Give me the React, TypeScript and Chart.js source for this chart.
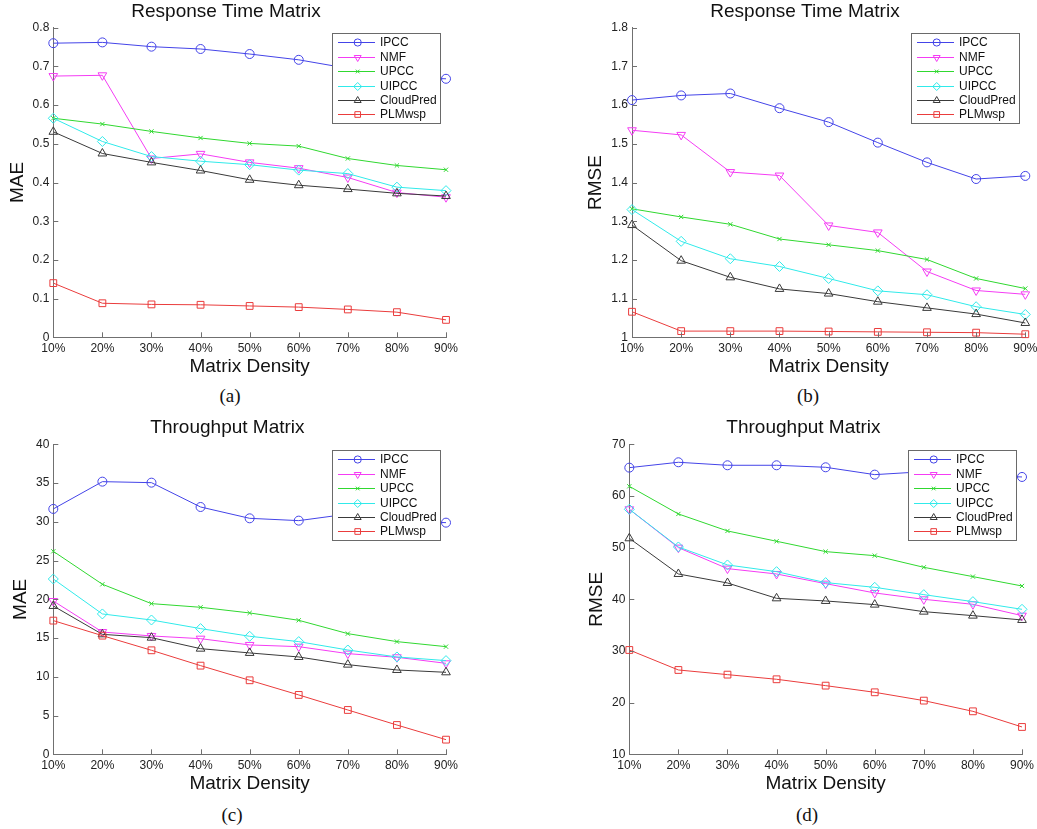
import React, { useEffect, useRef } from 'react';
import { Chart, registerables } from 'chart.js';

Chart.register(...registerables);

const FONT = "'Liberation Sans', Arial, Helvetica, sans-serif";
const AXIS = '#707070';

// ---------- data ----------
const densities = ['10%', '20%', '30%', '40%', '50%', '60%', '70%', '80%', '90%'];
const seriesNames = ['IPCC', 'NMF', 'UPCC', 'UIPCC', 'CloudPred', 'PLMwsp'];

// (a) Response Time Matrix, MAE
const rtMaeIPCC = [0.760, 0.762, 0.751, 0.745, 0.732, 0.717, 0.695, 0.672, 0.668];
const rtMaeNMF = [0.675, 0.677, 0.462, 0.474, 0.452, 0.437, 0.413, 0.374, 0.362];
const rtMaeUPCC = [0.566, 0.551, 0.532, 0.515, 0.501, 0.494, 0.462, 0.444, 0.433];
const rtMaeUIPCC = [0.566, 0.506, 0.467, 0.455, 0.446, 0.432, 0.423, 0.388, 0.379];
const rtMaeCloudPred = [0.531, 0.475, 0.452, 0.431, 0.407, 0.393, 0.383, 0.372, 0.365];
const rtMaePLMwsp = [0.140, 0.088, 0.085, 0.084, 0.081, 0.078, 0.072, 0.065, 0.045];
const rtMaeTicks = [0, 0.1, 0.2, 0.3, 0.4, 0.5, 0.6, 0.7, 0.8];

// (b) Response Time Matrix, RMSE
const rtRmseIPCC = [1.613, 1.625, 1.630, 1.592, 1.556, 1.503, 1.452, 1.409, 1.417];
const rtRmseNMF = [1.535, 1.523, 1.427, 1.418, 1.289, 1.271, 1.170, 1.121, 1.111];
const rtRmseUPCC = [1.332, 1.311, 1.292, 1.254, 1.239, 1.224, 1.201, 1.152, 1.126];
const rtRmseUIPCC = [1.330, 1.248, 1.203, 1.183, 1.152, 1.120, 1.110, 1.079, 1.059];
const rtRmseCloudPred = [1.290, 1.198, 1.155, 1.125, 1.113, 1.092, 1.076, 1.060, 1.037];
const rtRmsePLMwsp = [1.066, 1.016, 1.016, 1.016, 1.015, 1.014, 1.013, 1.012, 1.008];
const rtRmseTicks = [1, 1.1, 1.2, 1.3, 1.4, 1.5, 1.6, 1.7, 1.8];

// (c) Throughput Matrix, MAE
const tpMaeIPCC = [31.66, 35.18, 35.05, 31.91, 30.45, 30.15, 31.0, 30.1, 29.89];
const tpMaeNMF = [19.78, 15.78, 15.27, 14.92, 14.11, 13.89, 12.99, 12.52, 11.74];
const tpMaeUPCC = [26.19, 21.94, 19.44, 18.97, 18.24, 17.29, 15.57, 14.54, 13.89];
const tpMaeUIPCC = [22.62, 18.11, 17.33, 16.22, 15.23, 14.54, 13.46, 12.56, 12.09];
const tpMaeCloudPred = [19.14, 15.48, 15.05, 13.63, 13.08, 12.56, 11.57, 10.88, 10.58];
const tpMaePLMwsp = [17.25, 15.31, 13.42, 11.44, 9.55, 7.66, 5.72, 3.78, 1.89];
const tpMaeTicks = [0, 5, 10, 15, 20, 25, 30, 35, 40];

// (d) Throughput Matrix, RMSE
const tpRmseIPCC = [65.48, 66.52, 65.94, 65.94, 65.55, 64.13, 64.7, 64.0, 63.68];
const tpRmseNMF = [57.42, 50.0, 45.94, 44.9, 43.03, 41.23, 40.0, 39.03, 36.84];
const tpRmseUPCC = [61.87, 56.52, 53.23, 51.23, 49.23, 48.45, 46.19, 44.39, 42.58];
const tpRmseUIPCC = [57.42, 50.13, 46.65, 45.35, 43.23, 42.32, 40.9, 39.55, 38.06];
const tpRmseCloudPred = [51.81, 44.9, 43.16, 40.19, 39.68, 38.97, 37.61, 36.84, 36.0];
const tpRmsePLMwsp = [30.19, 26.32, 25.42, 24.52, 23.29, 22.0, 20.39, 18.32, 15.29];
const tpRmseTicks = [10, 20, 30, 40, 50, 60, 70];

// ---------- styles ----------
const seriesColors = ['#4444e8', '#f43cf4', '#30d830', '#30eaea', '#3a3a3a', '#ea3c3c'];
const seriesMarkers = ['circle', 'triangle', 'crossRot', 'rectRot', 'triangle', 'rect'];
const seriesRotation = [0, 180, 0, 0, 0, 0];
const seriesRadius = [4.5, 5, 3, 5, 5, 4.8];
const legendRadius = [3.6, 4, 2.6, 4, 4, 4];

function drawMarker(ctx: CanvasRenderingContext2D, style: string, r: number, rotDeg: number, x: number, y: number) {
  const rad = (rotDeg * Math.PI) / 180;
  ctx.beginPath();
  if (style === 'circle') {
    ctx.arc(x, y, r, 0, Math.PI * 2);
  } else if (style === 'triangle') {
    for (let k = 0; k < 3; k++) {
      const a = rad + (k * 2 * Math.PI) / 3;
      const px = x + Math.sin(a) * r;
      const py = y - Math.cos(a) * r;
      if (k === 0) ctx.moveTo(px, py); else ctx.lineTo(px, py);
    }
    ctx.closePath();
  } else if (style === 'crossRot') {
    const d = r * Math.SQRT1_2;
    ctx.moveTo(x - d, y - d); ctx.lineTo(x + d, y + d);
    ctx.moveTo(x - d, y + d); ctx.lineTo(x + d, y - d);
  } else if (style === 'rectRot') {
    ctx.moveTo(x, y - r); ctx.lineTo(x + r, y); ctx.lineTo(x, y + r); ctx.lineTo(x - r, y); ctx.closePath();
  } else {
    const s = r * Math.SQRT1_2;
    ctx.rect(x - s, y - s, 2 * s, 2 * s);
  }
  ctx.stroke();
}

const innerTicksPlugin = {
  id: 'innerTicks',
  afterDraw(chart: any) {
    const { ctx, chartArea: ca, scales } = chart;
    ctx.save();
    ctx.strokeStyle = AXIS;
    ctx.lineWidth = 1;
    ctx.beginPath();
    scales.x.ticks.forEach((_t: any, i: number) => {
      const x = Math.round(scales.x.getPixelForTick(i)) + 0.5;
      ctx.moveTo(x, ca.bottom);
      ctx.lineTo(x, ca.bottom - 5);
    });
    scales.y.ticks.forEach((_t: any, i: number) => {
      const y = Math.round(scales.y.getPixelForTick(i)) + 0.5;
      ctx.moveTo(ca.left, y);
      ctx.lineTo(ca.left + 5, y);
    });
    ctx.stroke();
    ctx.restore();
  },
};

const boxLegendPlugin = {
  id: 'boxLegend',
  afterDatasetsDraw(chart: any) {
    const { ctx, chartArea: ca } = chart;
    const w = 108;
    const h = 90;
    const x0 = Math.round(ca.right - 6 - w);
    const y0 = Math.round(ca.top + 5.5);
    ctx.save();
    ctx.fillStyle = '#ffffff';
    ctx.fillRect(x0, y0, w, h);
    ctx.strokeStyle = '#6a6a6a';
    ctx.lineWidth = 1;
    ctx.strokeRect(x0 + 0.5, y0 + 0.5, w, h);
    chart.data.datasets.forEach((ds: any, i: number) => {
      const cy = Math.round(y0 + 9.3 + i * 14.4) + 0.5;
      ctx.strokeStyle = ds.borderColor;
      ctx.lineWidth = 1;
      ctx.beginPath();
      ctx.moveTo(x0 + 6, cy);
      ctx.lineTo(x0 + 43, cy);
      ctx.stroke();
      drawMarker(ctx, seriesMarkers[i], legendRadius[i], seriesRotation[i], x0 + 25.7, cy);
      ctx.fillStyle = '#111';
      ctx.font = `12px ${FONT}`;
      ctx.textBaseline = 'middle';
      ctx.textAlign = 'left';
      ctx.fillText(ds.label, x0 + 48, cy);
    });
    ctx.restore();
  },
};

type PanelProps = {
  title: string;
  yLabel: string;
  series: number[][];
  ticks: number[];
  left: number; top: number; width: number; height: number;
  L: number; R: number; T: number; B: number; d: number;
};

function Panel(p: PanelProps) {
  const ref = useRef<HTMLCanvasElement | null>(null);
  useEffect(() => {
    if (!ref.current) return;
    const lh = 19 * 1.2;
    const wy = p.d + lh / 2;
    const padLeft = p.L - p.left - wy;
    const padRight = p.left + p.width - p.R;
    const tTop = Math.max(0, p.T - p.top - 16.5 - lh / 2);
    const tBottom = p.T - p.top - lh - tTop;
    const hx = p.top + p.height - p.B;
    const xtPadBottom = hx - 29 - lh / 2;
    const tickVals = p.ticks;
    const chart = new Chart(ref.current, {
      type: 'line',
      data: {
        labels: densities,
        datasets: p.series.map((vals, i) => ({
          label: seriesNames[i],
          data: vals,
          borderColor: seriesColors[i],
          backgroundColor: 'rgba(0,0,0,0)',
          borderWidth: 1,
          pointStyle: seriesMarkers[i] as any,
          pointRotation: seriesRotation[i],
          pointRadius: seriesRadius[i],
          pointBorderWidth: 1,
          pointBorderColor: seriesColors[i],
          pointBackgroundColor: 'rgba(0,0,0,0)',
          tension: 0,
          fill: false,
          clip: false as any,
          order: 5 - i,
        })),
      },
      options: {
        animation: false,
        responsive: false,
        maintainAspectRatio: false,
        events: [],
        layout: { padding: { left: padLeft, right: padRight, top: 0, bottom: 0 } },
        plugins: {
          legend: { display: false },
          tooltip: { enabled: false },
          title: {
            display: true,
            text: p.title,
            color: '#111',
            font: { family: FONT, size: 19, weight: 'normal', lineHeight: 1.2 },
            padding: { top: tTop, bottom: tBottom },
          },
        },
        scales: {
          x: {
            type: 'category',
            offset: false,
            grid: { display: false, drawTicks: true, tickLength: 4 },
            border: { display: true, color: AXIS, width: 1 },
            ticks: { color: '#222', padding: 0, maxRotation: 0, autoSkip: false, font: { family: FONT, size: 12 } },
            title: {
              display: true,
              text: 'Matrix Density',
              color: '#111',
              font: { family: FONT, size: 19, lineHeight: 1.2 },
              padding: { top: 0, bottom: xtPadBottom },
            },
            afterFit: (s: any) => { s.height = hx; },
          },
          y: {
            type: 'linear',
            min: tickVals[0],
            max: tickVals[tickVals.length - 1],
            grid: { display: false, drawTicks: true, tickLength: 4 },
            border: { display: true, color: AXIS, width: 1 },
            ticks: {
              color: '#222',
              padding: 0,
              font: { family: FONT, size: 12 },
              callback: (v: any) => String(v),
            },
            afterBuildTicks: (s: any) => { s.ticks = tickVals.map((v) => ({ value: v })); },
            title: {
              display: true,
              text: p.yLabel,
              color: '#111',
              font: { family: FONT, size: 19, lineHeight: 1.2 },
              padding: { top: 0, bottom: 0 },
            },
            afterFit: (s: any) => { s.width = wy; },
          },
        },
      } as any,
      plugins: [innerTicksPlugin, boxLegendPlugin],
    });
    return () => chart.destroy();
  }, []);
  return (
    <canvas
      ref={ref}
      width={p.width}
      height={p.height}
      style={{ position: 'absolute', left: p.left, top: p.top, width: p.width, height: p.height }}
    />
  );
}

function Caption({ text, cx, cy }: { text: string; cx: number; cy: number }) {
  return (
    <div
      style={{
        position: 'absolute',
        left: cx - 30,
        top: cy - 11,
        width: 60,
        height: 22,
        lineHeight: '22px',
        textAlign: 'center',
        fontFamily: "'Liberation Serif', 'Times New Roman', serif",
        fontSize: 19,
        color: '#111',
      }}
    >
      {text}
    </div>
  );
}

export default function App() {
  return (
    <div style={{ position: 'absolute', left: 0, top: 0, width: 1037, height: 829, overflow: 'hidden', background: '#fff' }}>
      <Panel
        title="Response Time Matrix" yLabel="MAE"
        series={[rtMaeIPCC, rtMaeNMF, rtMaeUPCC, rtMaeUIPCC, rtMaeCloudPred, rtMaePLMwsp]}
        ticks={rtMaeTicks}
        left={0} top={0} width={518} height={380}
        L={53.3} R={446} T={27.7} B={337.3} d={36}
      />
      <Panel
        title="Response Time Matrix" yLabel="RMSE"
        series={[rtRmseIPCC, rtRmseNMF, rtRmseUPCC, rtRmseUIPCC, rtRmseCloudPred, rtRmsePLMwsp]}
        ticks={rtRmseTicks}
        left={518} top={0} width={530} height={380}
        L={632} R={1025.3} T={27.7} B={337.3} d={36}
      />
      <Panel
        title="Throughput Matrix" yLabel="MAE"
        series={[tpMaeIPCC, tpMaeNMF, tpMaeUPCC, tpMaeUIPCC, tpMaeCloudPred, tpMaePLMwsp]}
        ticks={tpMaeTicks}
        left={0} top={410} width={518} height={390}
        L={53.3} R={446} T={444.3} B={754.3} d={33}
      />
      <Panel
        title="Throughput Matrix" yLabel="RMSE"
        series={[tpRmseIPCC, tpRmseNMF, tpRmseUPCC, tpRmseUIPCC, tpRmseCloudPred, tpRmsePLMwsp]}
        ticks={tpRmseTicks}
        left={518} top={410} width={530} height={390}
        L={629.3} R={1022} T={444.3} B={754.3} d={33}
      />
      <Caption text="(a)" cx={230} cy={396} />
      <Caption text="(b)" cx={808} cy={396} />
      <Caption text="(c)" cx={232} cy={815} />
      <Caption text="(d)" cx={807} cy={815} />
    </div>
  );
}
